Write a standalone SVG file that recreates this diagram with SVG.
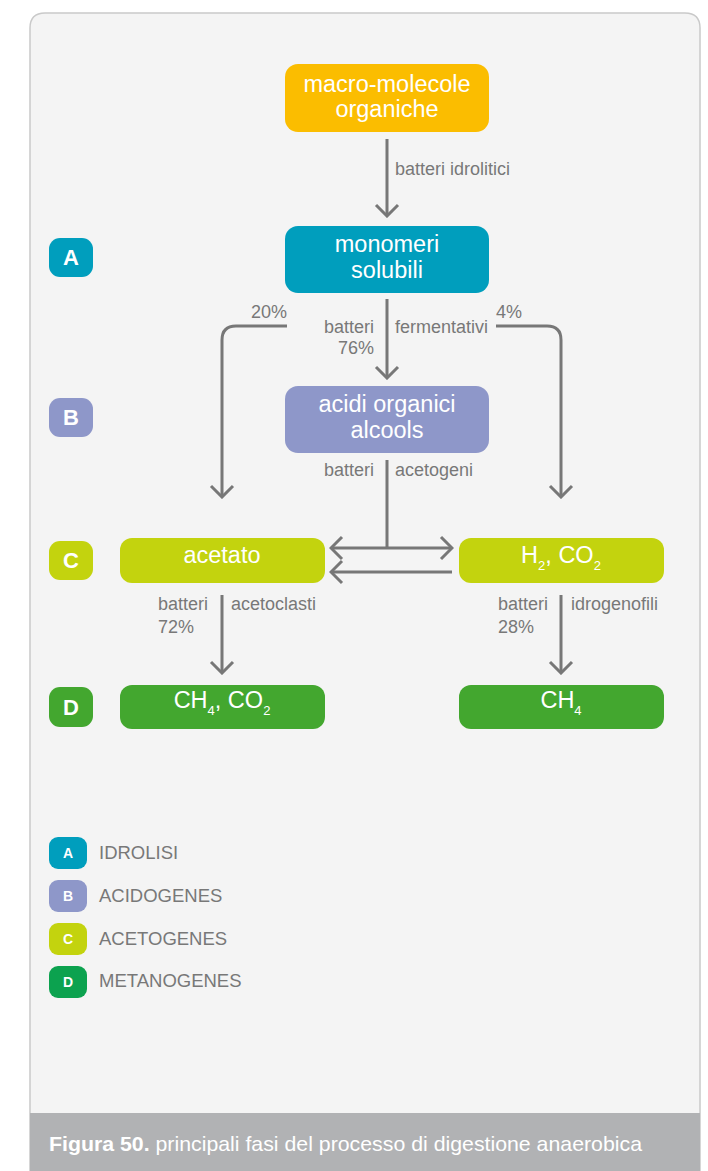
<svg xmlns="http://www.w3.org/2000/svg" width="708" height="1171" viewBox="0 0 708 1171">
  <defs>
    <style>
      .card { fill: #f4f4f4; stroke: #c9c9c9; stroke-width: 1.5; }
      .node-text { font-family: "Liberation Sans", Arial, sans-serif; font-size: 23.5px; fill: #ffffff; text-anchor: middle; }
      .sub { font-size: 13px; }
      .lbl { font-family: "Liberation Sans", Arial, sans-serif; font-size: 18px; fill: #787878; }
      .badge-text { font-family: "Liberation Sans", Arial, sans-serif; font-weight: bold; font-size: 22px; fill: #ffffff; text-anchor: middle; }
      .leg-badge-text { font-family: "Liberation Sans", Arial, sans-serif; font-weight: bold; font-size: 14px; fill: #ffffff; text-anchor: middle; }
      .leg-text { font-family: "Liberation Sans", Arial, sans-serif; font-size: 18.5px; fill: #787878; }
      .conn { fill: none; stroke: #777777; stroke-width: 3; }
      .c-orange { fill: #fbbd00; }
      .c-teal { fill: #009ebd; }
      .c-violet { fill: #8e97c9; }
      .c-lime { fill: #c3d30e; }
      .c-green { fill: #43a72f; }
      .c-green2 { fill: #0ca24f; }
    </style>
    <marker id="arrow" viewBox="-14 -13 16 26" markerWidth="16" markerHeight="26" refX="0" refY="0" orient="auto-start-reverse" markerUnits="userSpaceOnUse">
      <path d="M-11,-11 L0,0 L-11,11" fill="none" stroke="#777777" stroke-width="3"/>
    </marker>
  </defs>

  <!-- panel -->
  <path class="card" d="M30,1171 L30,28 Q30,13 45,13 L685,13 Q700,13 700,28 L700,1171 Z"/>
  <rect x="30" y="1113" width="670" height="58" fill="#b1b2b4"/>
  <text x="49" y="1151" font-family="'Liberation Sans', Arial, sans-serif" font-size="21" fill="#ffffff" textLength="593" lengthAdjust="spacingAndGlyphs"><tspan font-weight="bold">Figura 50.</tspan> principali fasi del processo di digestione anaerobica</text>

  <!-- connectors -->
  <g id="connectors">
    <line class="conn" x1="387" y1="139" x2="387" y2="216" marker-end="url(#arrow)"/>
    <line class="conn" x1="387" y1="299" x2="387" y2="378" marker-end="url(#arrow)"/>
    <path class="conn" d="M287,326 L236,326 Q222,326 222,340 L222,497" marker-end="url(#arrow)"/>
    <path class="conn" d="M496,326 L547,326 Q561,326 561,340 L561,497" marker-end="url(#arrow)"/>
    <line class="conn" x1="387" y1="460" x2="387" y2="548"/>
    <line class="conn" x1="331" y1="548" x2="452" y2="548" marker-start="url(#arrow)" marker-end="url(#arrow)"/>
    <line class="conn" x1="452" y1="572" x2="331" y2="572" marker-end="url(#arrow)"/>
    <line class="conn" x1="222" y1="595" x2="222" y2="673" marker-end="url(#arrow)"/>
    <line class="conn" x1="561" y1="595" x2="561" y2="673" marker-end="url(#arrow)"/>

    <text class="lbl" x="395" y="175">batteri idrolitici</text>
    <text class="lbl" x="287" y="318" text-anchor="end">20%</text>
    <text class="lbl" x="496" y="318">4%</text>
    <text class="lbl" x="374" y="333" text-anchor="end">batteri</text>
    <text class="lbl" x="374" y="354" text-anchor="end">76%</text>
    <text class="lbl" x="395" y="333">fermentativi</text>
    <text class="lbl" x="374" y="476" text-anchor="end">batteri</text>
    <text class="lbl" x="395" y="476">acetogeni</text>
    <text class="lbl" x="158" y="610">batteri</text>
    <text class="lbl" x="158" y="633">72%</text>
    <text class="lbl" x="231" y="610">acetoclasti</text>
    <text class="lbl" x="498" y="610">batteri</text>
    <text class="lbl" x="498" y="633">28%</text>
    <text class="lbl" x="571" y="610">idrogenofili</text>
  </g>

  <!-- process nodes -->
  <g id="macro-molecole">
    <rect class="c-orange" x="285" y="64" width="204" height="68" rx="13"/>
    <text class="node-text" x="387" y="92">macro-molecole</text>
    <text class="node-text" x="387" y="117">organiche</text>
  </g>
  <g id="monomeri">
    <rect class="c-teal" x="285" y="226" width="204" height="67" rx="13"/>
    <text class="node-text" x="387" y="252">monomeri</text>
    <text class="node-text" x="387" y="278">solubili</text>
  </g>
  <g id="acidi-organici">
    <rect class="c-violet" x="285" y="386" width="204" height="67" rx="13"/>
    <text class="node-text" x="387" y="412">acidi organici</text>
    <text class="node-text" x="387" y="438">alcools</text>
  </g>
  <g id="acetato">
    <rect class="c-lime" x="120" y="538" width="205" height="45" rx="12"/>
    <text class="node-text" x="222" y="563">acetato</text>
  </g>
  <g id="h2-co2">
    <rect class="c-lime" x="459" y="538" width="205" height="45" rx="12"/>
    <text class="node-text" x="561" y="563">H<tspan class="sub" dy="7">2</tspan><tspan dy="-7">, CO</tspan><tspan class="sub" dy="7">2</tspan></text>
  </g>
  <g id="ch4-co2">
    <rect class="c-green" x="120" y="685" width="205" height="44" rx="12"/>
    <text class="node-text" x="222" y="708">CH<tspan class="sub" dy="7">4</tspan><tspan dy="-7">, CO</tspan><tspan class="sub" dy="7">2</tspan></text>
  </g>
  <g id="ch4">
    <rect class="c-green" x="459" y="685" width="205" height="44" rx="12"/>
    <text class="node-text" x="561" y="708">CH<tspan class="sub" dy="7">4</tspan></text>
  </g>

  <!-- phase badges -->
  <g id="badge-a">
    <rect class="c-teal" x="49" y="238" width="44" height="39" rx="11"/>
    <text class="badge-text" x="71" y="265">A</text>
  </g>
  <g id="badge-b">
    <rect class="c-violet" x="49" y="398" width="44" height="39" rx="11"/>
    <text class="badge-text" x="71" y="425">B</text>
  </g>
  <g id="badge-c">
    <rect class="c-lime" x="49" y="541" width="44" height="39" rx="11"/>
    <text class="badge-text" x="71" y="568">C</text>
  </g>
  <g id="badge-d">
    <rect class="c-green" x="49" y="687" width="44" height="40" rx="11"/>
    <text class="badge-text" x="71" y="715">D</text>
  </g>

  <!-- legend -->
  <g id="legend-a">
    <rect class="c-teal" x="49" y="837" width="38" height="32" rx="9"/>
    <text class="leg-badge-text" x="68" y="858">A</text>
    <text class="leg-text" x="99" y="859">IDROLISI</text>
  </g>
  <g id="legend-b">
    <rect class="c-violet" x="49" y="880" width="38" height="32" rx="9"/>
    <text class="leg-badge-text" x="68" y="901">B</text>
    <text class="leg-text" x="99" y="902">ACIDOGENES</text>
  </g>
  <g id="legend-c">
    <rect class="c-lime" x="49" y="923" width="38" height="32" rx="9"/>
    <text class="leg-badge-text" x="68" y="944">C</text>
    <text class="leg-text" x="99" y="945">ACETOGENES</text>
  </g>
  <g id="legend-d">
    <rect class="c-green2" x="49" y="966" width="38" height="32" rx="9"/>
    <text class="leg-badge-text" x="68" y="987">D</text>
    <text class="leg-text" x="99" y="987">METANOGENES</text>
  </g>
</svg>
